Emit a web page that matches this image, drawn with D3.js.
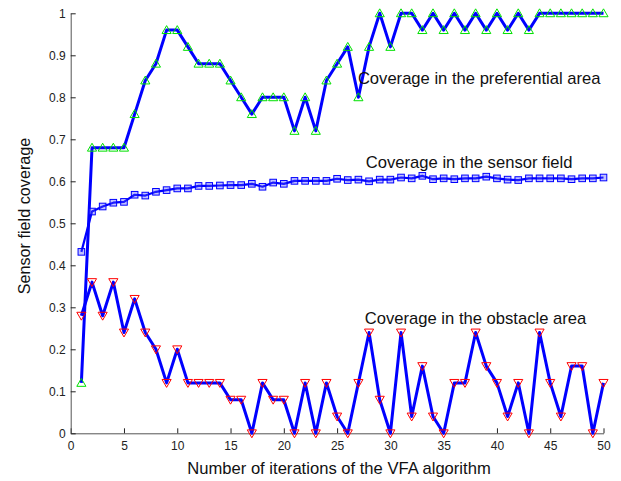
<!DOCTYPE html>
<html>
<head>
<meta charset="utf-8">
<script src="https://cdn.jsdelivr.net/npm/d3@7"></script>
<style>
  body { margin: 0; background: #fff; }
  svg { display: block; font-family: "Liberation Sans", Arial, Helvetica, sans-serif; }
</style>
</head>
<body>
<svg id="chart" width="621" height="481"></svg>
<script>
const iterations = d3.range(1, 51);
const preferential = [0.12,0.68,0.68,0.68,0.68,0.76,0.84,0.88,0.96,0.96,
  0.92,0.88,0.88,0.88,0.84,0.80,0.76,0.80,0.80,0.80,
  0.72,0.80,0.72,0.84,0.88,0.92,0.80,0.92,1.00,0.92,
  1.00,1.00,0.96,1.00,0.96,1.00,0.96,1.00,0.96,1.00,
  0.96,1.00,0.96,1.00,1.00,1.00,1.00,1.00,1.00,1.00];
const sensorField = [0.432,0.528,0.540,0.549,0.551,0.568,0.566,0.575,0.579,0.583,
  0.583,0.589,0.589,0.590,0.591,0.591,0.594,0.587,0.597,0.594,
  0.601,0.601,0.601,0.601,0.606,0.603,0.604,0.600,0.604,0.604,
  0.609,0.607,0.613,0.605,0.607,0.605,0.607,0.607,0.611,0.607,
  0.604,0.603,0.607,0.607,0.607,0.607,0.605,0.607,0.607,0.609];
const obstacle = [0.28,0.36,0.28,0.36,0.24,0.32,0.24,0.20,0.12,0.20,
  0.12,0.12,0.12,0.12,0.08,0.08,0.00,0.12,0.08,0.08,
  0.00,0.12,0.00,0.12,0.04,0.00,0.12,0.24,0.08,0.00,
  0.24,0.04,0.16,0.04,0.00,0.12,0.12,0.24,0.16,0.12,
  0.04,0.12,0.00,0.24,0.12,0.04,0.16,0.16,0.00,0.12];
const xTicks = [0,5,10,15,20,25,30,35,40,45,50];
const yTicks = [0,0.1,0.2,0.3,0.4,0.5,0.6,0.7,0.8,0.9,1];
const annotations = [
  {text: "Coverage in the preferential area", x: 26.95, y: 0.832},
  {text: "Coverage in the sensor field", x: 27.7, y: 0.632},
  {text: "Coverage in the obstacle area", x: 27.6, y: 0.26}
];
const xLabel = "Number of iterations of the VFA algorithm";
const yLabel = "Sensor field coverage";

const svg = d3.select("#chart");
const x = d3.scaleLinear().domain([0, 50]).range([70.7, 603.5]);
const y = d3.scaleLinear().domain([0, 1]).range([433.3, 13.3]);

// axes
const axisColor = "#555";
const gx = svg.append("g").attr("transform", `translate(0,${y(0)})`)
  .call(d3.axisBottom(x).tickValues(xTicks).tickSizeInner(-5).tickSizeOuter(0).tickPadding(5).tickFormat(d3.format("d")));
const gy = svg.append("g").attr("transform", `translate(${x(0)},0)`)
  .call(d3.axisLeft(y).tickValues(yTicks).tickSizeInner(-5).tickSizeOuter(0).tickPadding(5).tickFormat(d => d === 0 || d === 1 ? String(d) : d3.format(".1f")(d)));
[gx, gy].forEach(g => {
  g.select(".domain").attr("stroke", axisColor).attr("stroke-width", 1);
  g.selectAll(".tick line").attr("stroke", "#222");
  g.selectAll(".tick text").attr("fill", "#222").style("font-size", "12px").style("font-family", "Liberation Sans, Arial, sans-serif");
});
gx.selectAll(".tick text").attr("dy", "0.95em");

const line = d3.line().x((d, i) => x(iterations[i])).y(d => y(d));
const blue = "#0000ff";

// lines
svg.append("path").datum(sensorField).attr("d", line).attr("fill", "none").attr("stroke", blue).attr("stroke-width", 2.2).attr("stroke-linejoin", "round");
svg.append("path").datum(preferential).attr("d", line).attr("fill", "none").attr("stroke", blue).attr("stroke-width", 3).attr("stroke-linejoin", "round");
svg.append("path").datum(obstacle).attr("d", line).attr("fill", "none").attr("stroke", blue).attr("stroke-width", 3).attr("stroke-linejoin", "round");

// markers
const triUp = d3.symbol().type(d3.symbolTriangle).size(36);
svg.append("g").selectAll("path").data(preferential).join("path")
  .attr("d", triUp)
  .attr("transform", (d, i) => `translate(${x(iterations[i])},${y(d) + 0.8})`)
  .attr("fill", "none").attr("stroke", "#00e000").attr("stroke-width", 1);

svg.append("g").selectAll("rect").data(sensorField).join("rect")
  .attr("x", (d, i) => x(iterations[i]) - 3.3)
  .attr("y", d => y(d) - 3.3)
  .attr("width", 6.6).attr("height", 6.6)
  .attr("fill", "rgba(80,80,255,0.35)").attr("stroke", blue).attr("stroke-width", 1);

svg.append("g").selectAll("path").data(obstacle).join("path")
  .attr("d", triUp)
  .attr("transform", (d, i) => `translate(${x(iterations[i])},${y(d) - 0.8}) rotate(180)`)
  .attr("fill", "none").attr("stroke", "#ff0000").attr("stroke-width", 1);

// annotations
svg.append("g").selectAll("text").data(annotations).join("text")
  .attr("x", d => x(d.x)).attr("y", d => y(d.y))
  .attr("fill", "#111").style("font-size", "16.6px")
  .text(d => d.text);

svg.append("text").attr("x", 339).attr("y", 474).attr("text-anchor", "middle")
  .attr("fill", "#111").style("font-size", "16.6px").text(xLabel);
svg.append("text").attr("transform", "translate(30,216) rotate(-90)").attr("text-anchor", "middle")
  .attr("fill", "#111").style("font-size", "16.2px").text(yLabel);
</script>
</body>
</html>
